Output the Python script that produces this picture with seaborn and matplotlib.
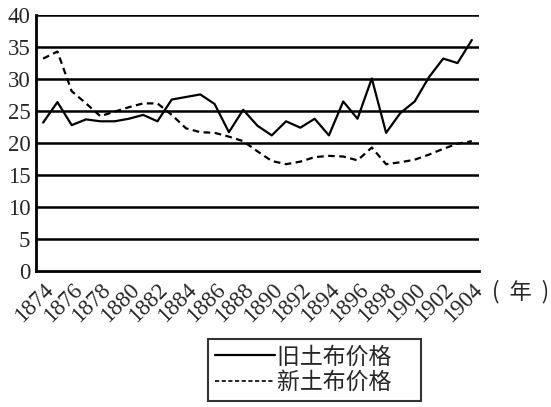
import numpy as np
import pandas as pd
import matplotlib
matplotlib.use('Agg')
import matplotlib.pyplot as plt
import seaborn as sns

# ==========================================
# data
# ==========================================
years = list(range(1874, 1905))
old_cloth = [23.2, 26.4, 22.8, 23.7, 23.4, 23.4, 23.8, 24.4, 23.4, 26.8,
             27.2, 27.6, 26.1, 21.7, 25.2, 22.7, 21.2, 23.4, 22.4, 23.8,
             21.2, 26.5, 23.8, 30.1, 21.6, 24.7, 26.5, 30.3, 33.2, 32.5, 36.1]
new_cloth = [33.2, 34.3, 28.1, 26.2, 24.2, 24.9, 25.6, 26.2, 26.2, 24.4,
             22.3, 21.7, 21.6, 21.0, 20.3, 18.7, 17.2, 16.7, 17.1, 17.8,
             18.0, 17.9, 17.3, 19.3, 16.7, 17.0, 17.4, 18.2, 19.1, 19.9, 20.3]
series_names = ['旧土布价格', '新土布价格']
y_ticks = [0, 5, 10, 15, 20, 25, 30, 35, 40]
label_years = years[::2]

df = pd.DataFrame({'year': years, series_names[0]: old_cloth, series_names[1]: new_cloth})
long_df = df.melt(id_vars='year', var_name='series', value_name='price')

sns.set_style('white')
num_font = 'Liberation Serif'
cjk_font = ['Noto Sans CJK SC', 'DejaVu Sans']

fig = plt.figure(figsize=(5.51, 4.07), dpi=100)
ax = fig.add_axes([0.0653, 0.334, 0.8040, 0.629])

sns.lineplot(data=long_df, x='year', y='price', hue='series', style='series',
             palette={series_names[0]: 'black', series_names[1]: 'black'},
             dashes={series_names[0]: '', series_names[1]: (3, 2)},
             linewidth=1.6, ax=ax, legend=False)

# horizontal gridlines
for v in y_ticks[1:]:
    ax.axhline(v, color='black', lw=1.8, zorder=0)

ax.set_ylim(0, 40)
ax.set_xlim(years[0] - 0.5, years[-1] + 0.5)
ax.set_xlabel('')
ax.set_ylabel('')

for s in ['top', 'right']:
    ax.spines[s].set_visible(False)
for s in ['left', 'bottom']:
    ax.spines[s].set_color('black')
    ax.spines[s].set_linewidth(2)

ax.set_yticks(y_ticks)
ax.set_yticklabels([str(v) for v in y_ticks], fontfamily=num_font, fontsize=16.5)
ax.tick_params(axis='y', direction='out', length=3, width=1.2, color='black', pad=1)

# category boundaries get the tick marks, labels sit on the even years
ax.set_xticks(np.arange(years[0] - 0.5, years[-1] + 1), minor=True)
ax.set_xticks(label_years)
ax.set_xticklabels([str(y) for y in label_years], rotation=45, ha='right', va='top',
                   rotation_mode='anchor', fontfamily=num_font, fontsize=16.5)
ax.tick_params(axis='x', which='major', length=0, pad=6)
ax.tick_params(axis='x', which='minor', direction='out', length=5, width=1.2, color='black')

fig.text(0.997, 0.283, '(  年  )', fontsize=16, family=cjk_font, ha='right', va='center')

handles = [plt.Line2D([], [], color='black', lw=1.6),
           plt.Line2D([], [], color='black', lw=1.2, dashes=(2.5, 1.5))]
labels = [n + '\u3000' for n in series_names]
leg = fig.legend(handles, labels, loc='center', bbox_to_anchor=(0.571, 0.092),
                 prop={'family': cjk_font, 'size': 16.5}, handlelength=2.6,
                 handletextpad=0.1, labelspacing=0.1, borderpad=0.3,
                 borderaxespad=0, fancybox=False, frameon=True, edgecolor='black')
leg.get_frame().set_linewidth(1.5)

fig.savefig('out.png', dpi=100)
